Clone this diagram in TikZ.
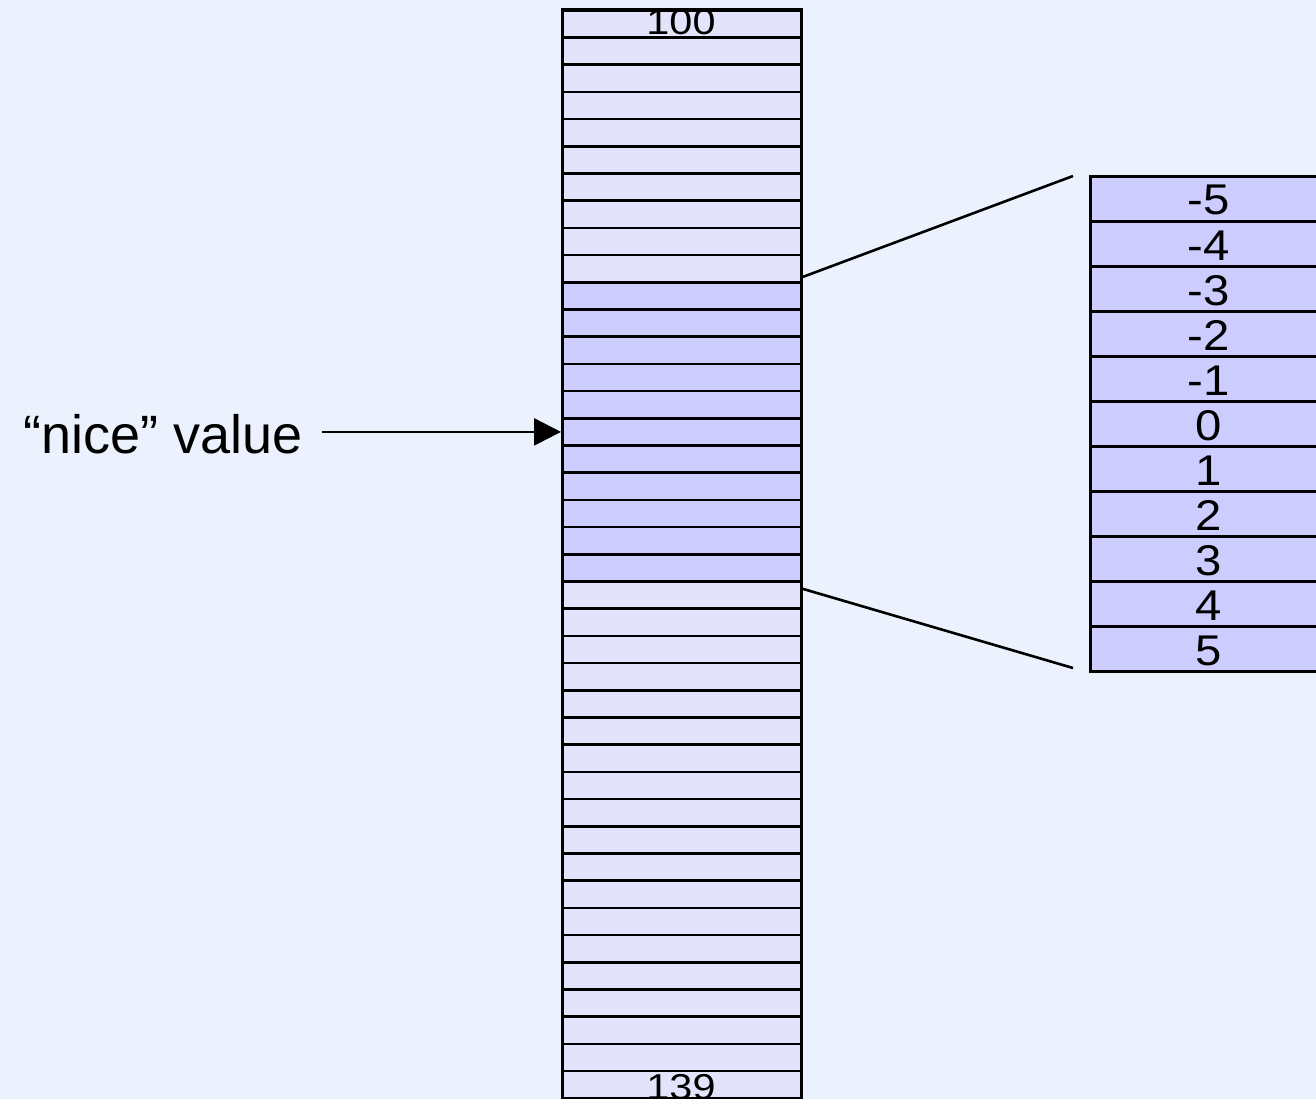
\documentclass[tikz,border=0pt]{standalone}
\usepackage{fontspec}
\setmainfont{Liberation Sans}
\usetikzlibrary{arrows.meta}
\definecolor{bgblue}{RGB}{235,241,253}
\definecolor{cellpale}{RGB}{227,227,252}
\definecolor{celldeep}{RGB}{204,204,255}
\newcommand{\widenum}[2]{\scalebox{#1}[1]{#2}}
\tikzset{
  cell/.style={draw=black, line width=2.6pt, inner sep=0pt, anchor=north west,
    minimum width=239pt, minimum height=27.2pt},
  bigcell/.style={draw=black, line width=2.6pt, inner sep=0pt, anchor=north west,
    minimum width=242pt, minimum height=45pt, fill=celldeep},
  endtxt/.style={inner sep=0pt, anchor=base, font=\fontsize{36}{36}\selectfont},
  numtxt/.style={inner sep=0pt, anchor=base, font=\fontsize{43}{43}\selectfont},
  zoomline/.style={line width=2.6pt},
  pointer/.style={line width=2.6pt, -{Triangle[length=27pt,width=27pt]}}
}
\begin{document}
\begin{tikzpicture}[x=1pt, y=-1pt]
  \useasboundingbox (0,0) rectangle (1316,1099);
  \fill[bgblue] (0,0) rectangle (1316,1099);
  \clip (0,0) rectangle (1316,1099);

  % priority table, 100 .. 139
  \foreach \i in {0,...,39} {
    \pgfmathtruncatemacro{\deep}{(\i>=10) && (\i<=20)}
    \ifnum\deep=1
      \node[cell, fill=celldeep] (l\i) at (561, 9+\i*27.2) {};
    \else
      \node[cell, fill=cellpale] (l\i) at (561, 9+\i*27.2) {};
    \fi
  }
  \node[endtxt] (top) at (681, 35) {\widenum{1.15}{100}};
  \node[endtxt] (bot) at (681, 1099) {\widenum{1.15}{139}};
  % keep the frame lines above the end labels
  \draw[line width=2.6pt] (l0.north west) -- (l0.north east);

  % nice values, -5 .. 5
  \foreach \j/\v in {0/-5,1/-4,2/-3,3/-2,4/-1,5/0,6/1,7/2,8/3,9/4,10/5} {
    \node[bigcell] (r\j) at (1089, 175+\j*45) {};
    \node[numtxt] (v\j) at (1209, 175+\j*45+40) {\widenum{1.1}{\v}};
  }

  % lines fanning out to the expanded view
  \coordinate (zt) at (1073,176);
  \coordinate (zb) at (1073,668);
  \draw[zoomline] ([yshift=4pt]l10.north east) -- (zt);
  \draw[zoomline] ([yshift=-6pt]l20.south east) -- (zb);

  % label and arrow
  \node[inner sep=0pt, anchor=base east, font=\fontsize{54}{54}\selectfont]
    (nice) at (303, 453) {“nice” value};
  \draw[pointer, shorten <=19pt] (nice.east |- l15.west) -- (l15.west);
\end{tikzpicture}
\end{document}
